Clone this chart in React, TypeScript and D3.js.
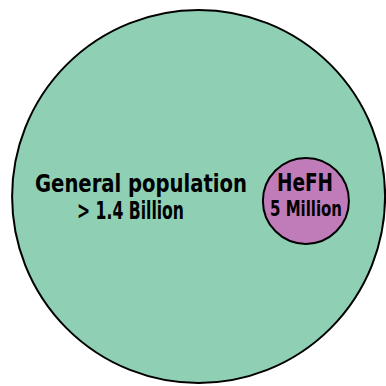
import React from "react";
import * as d3 from "d3";

const groups = ["General population", "HeFH"];
const valueLabels = ["> 1.4 Billion", "5 Million"];
const colors = ["#8fcfb4", "#c07cb9"];

const W = 386;
const H = 386;

export default function App() {
  const x = d3.scaleLinear().domain([0, 1]).range([0, W]);
  const y = d3.scaleLinear().domain([0, 1]).range([0, H]);
  const big = { cx: x(0.5145), cy: y(0.509), r: 186.5 };
  const small = { cx: x(0.7925), cy: y(0.5205), r: 43 };
  const font = "'DejaVu Sans Condensed', 'Liberation Sans Narrow', sans-serif";
  return (
    <svg width={W} height={H} style={{ position: "absolute", left: 0, top: 0 }}>
      <circle cx={big.cx} cy={big.cy} r={big.r} fill={colors[0]} stroke="#000" strokeWidth={2} />
      <circle cx={small.cx} cy={small.cy} r={small.r} fill={colors[1]} stroke="#000" strokeWidth={2} />
      <text x={35} y={192} fontFamily={font} fontWeight="bold" fontSize={24} textLength={212} lengthAdjust="spacingAndGlyphs" fill="#000">
        {groups[0]}
      </text>
      <text x={77} y={219} fontFamily={font} fontWeight="600" fontSize={24} textLength={107} lengthAdjust="spacingAndGlyphs" fill="#000">
        {valueLabels[0]}
      </text>
      <text x={277} y={191} fontFamily={font} fontWeight="bold" fontSize={24} textLength={56} lengthAdjust="spacingAndGlyphs" fill="#000">
        {groups[1]}
      </text>
      <text x={270} y={216} fontFamily={font} fontWeight="600" fontSize={22} textLength={72} lengthAdjust="spacingAndGlyphs" fill="#000">
        {valueLabels[1]}
      </text>
    </svg>
  );
}
